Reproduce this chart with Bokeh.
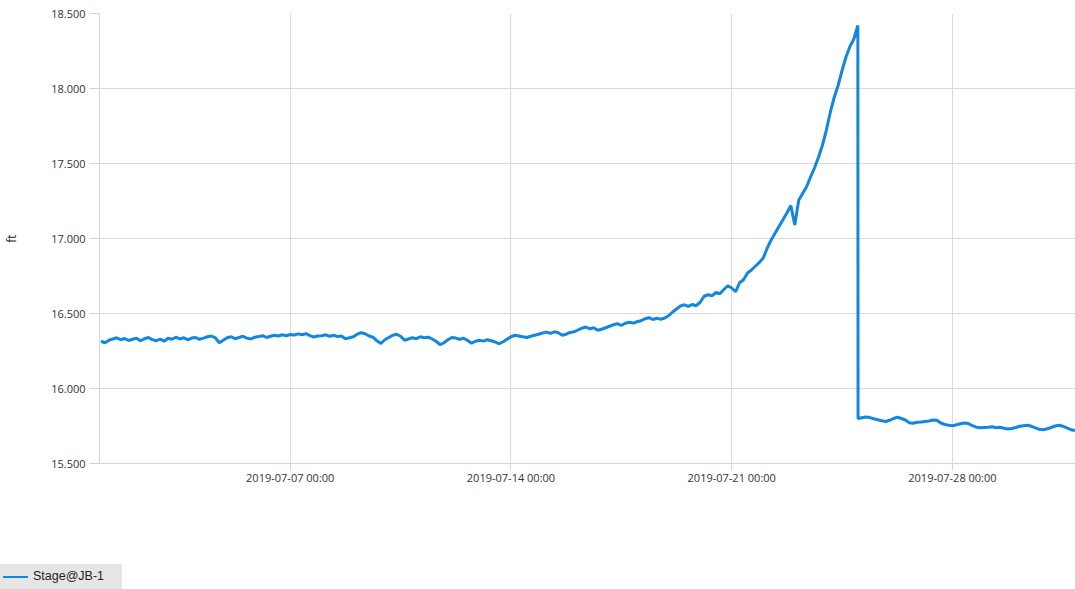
import pandas as pd
from datetime import datetime
from bokeh.plotting import figure
from bokeh.layouts import column
from bokeh.models import (Range1d, FixedTicker, DatetimeTickFormatter, PrintfTickFormatter,
                          ColumnDataSource, Div)
from bokeh.embed import file_html
from bokeh.resources import INLINE

series_name = "Stage@JB-1"
y_label = "ft"
y_ticks = [15.5, 16.0, 16.5, 17.0, 17.5, 18.0, 18.5]
x_tick_dates = ["2019-07-07 00:00", "2019-07-14 00:00", "2019-07-21 00:00", "2019-07-28 00:00"]

# 3-hourly readings from 2019-07-01 00:00 through 2019-07-25 00:00
stage_rise = [
    16.315, 16.305, 16.322, 16.330, 16.338, 16.325, 16.333, 16.320,  # 07-01
    16.328, 16.335, 16.318, 16.332, 16.340, 16.326, 16.318, 16.330,  # 07-02
    16.315, 16.335, 16.328, 16.342, 16.330, 16.338, 16.325, 16.336,  # 07-03
    16.340, 16.328, 16.336, 16.345, 16.350, 16.338, 16.305, 16.322,  # 07-04
    16.338, 16.345, 16.332, 16.340, 16.348, 16.336, 16.330, 16.342,  # 07-05
    16.346, 16.352, 16.340, 16.348, 16.355, 16.350, 16.358, 16.352,  # 07-06
    16.360, 16.356, 16.364, 16.358, 16.366, 16.352, 16.343, 16.350,  # 07-07
    16.352, 16.358, 16.348, 16.355, 16.346, 16.350, 16.332, 16.338,  # 07-08
    16.345, 16.362, 16.372, 16.365, 16.350, 16.342, 16.318, 16.300,  # 07-09
    16.325, 16.340, 16.355, 16.362, 16.348, 16.322, 16.330, 16.338,  # 07-10
    16.332, 16.345, 16.338, 16.342, 16.330, 16.315, 16.292, 16.305,  # 07-11
    16.325, 16.340, 16.336, 16.328, 16.335, 16.320, 16.302, 16.315,  # 07-12
    16.322, 16.316, 16.325, 16.318, 16.310, 16.298, 16.312, 16.328,  # 07-13
    16.345, 16.355, 16.350, 16.345, 16.340, 16.348, 16.355, 16.362,  # 07-14
    16.370, 16.376, 16.368, 16.378, 16.372, 16.355, 16.362, 16.374,  # 07-15
    16.378, 16.390, 16.402, 16.410, 16.398, 16.405, 16.388, 16.395,  # 07-16
    16.405, 16.415, 16.425, 16.432, 16.420, 16.435, 16.442, 16.436,  # 07-17
    16.445, 16.452, 16.465, 16.472, 16.460, 16.468, 16.462, 16.470,  # 07-18
    16.485, 16.510, 16.530, 16.550, 16.558, 16.548, 16.560, 16.552,  # 07-19
    16.575, 16.615, 16.625, 16.618, 16.640, 16.632, 16.660, 16.685,  # 07-20
    16.670, 16.645, 16.705, 16.725, 16.770, 16.790, 16.815, 16.840,  # 07-21
    16.870, 16.935, 16.990, 17.035, 17.080, 17.125, 17.170, 17.220,  # 07-22
    17.090, 17.255, 17.300, 17.345, 17.410, 17.470, 17.540, 17.620,  # 07-23
    17.720, 17.840, 17.940, 18.020, 18.120, 18.210, 18.280, 18.330,  # 07-24
    18.420,                                                          # 07-25 00:00
]

# 3-hourly readings from 2019-07-25 00:10 on, after the drop
stage_after = [
    15.800, 15.805, 15.810, 15.806, 15.798, 15.792, 15.785, 15.780,  # 07-25
    15.788, 15.800, 15.808, 15.800, 15.790, 15.772, 15.768, 15.775,  # 07-26
    15.776, 15.780, 15.783, 15.790, 15.788, 15.770, 15.760, 15.755,  # 07-27
    15.752, 15.758, 15.765, 15.770, 15.766, 15.752, 15.742, 15.738,  # 07-28
    15.740, 15.742, 15.745, 15.738, 15.742, 15.735, 15.730, 15.733,  # 07-29
    15.740, 15.748, 15.752, 15.755, 15.748, 15.738, 15.728, 15.725,  # 07-30
    15.732, 15.740, 15.750, 15.755, 15.748, 15.738, 15.725, 15.720,  # 07-31
]

times = list(pd.date_range("2019-07-01 00:00", periods=len(stage_rise), freq="3h")) + \
        list(pd.date_range("2019-07-25 00:10", periods=len(stage_after), freq="3h"))
values = stage_rise + stage_after
src = ColumnDataSource(dict(t=times, v=values))

LINE_COLOR = "#1387e0"
LINE_WIDTH = 3

p = figure(width=1075, height=564, output_backend="svg", toolbar_location=None,
           x_axis_type="datetime",
           x_range=Range1d(datetime(2019, 6, 30, 22, 50), datetime(2019, 7, 31, 21, 40)),
           y_range=Range1d(15.5, 18.5),
           min_border_left=98, min_border_right=0, min_border_top=13, min_border_bottom=101)
p.outline_line_color = None
p.background_fill_color = "white"
p.border_fill_color = "white"

line = p.line("t", "v", source=src, line_color=LINE_COLOR, line_width=LINE_WIDTH)

tick_ms = [pd.Timestamp(d).value // 10**6 for d in x_tick_dates]
xa = p.xaxis[0]
xa.ticker = FixedTicker(ticks=tick_ms)
fmt = "%Y-%m-%d %H:%M"
xa.formatter = DatetimeTickFormatter(microseconds=fmt, milliseconds=fmt, seconds=fmt, minsec=fmt,
                                     minutes=fmt, hourmin=fmt, hours=fmt, days=fmt, months=fmt, years=fmt)
ya = p.yaxis[0]
ya.ticker = FixedTicker(ticks=y_ticks)
ya.formatter = PrintfTickFormatter(format="%.3f")
ya.axis_label = y_label
ya.axis_label_text_font = "Open Sans"
ya.axis_label_text_font_size = "12px"
ya.axis_label_text_font_style = "normal"
ya.axis_label_text_color = "#222222"
ya.axis_label_standoff = 28

for ax in (xa, ya):
    ax.major_label_text_font = "Open Sans"
    ax.major_label_text_font_size = "11px"
    ax.major_label_text_color = "#333333"
    ax.axis_line_color = "#d4d4d4"
    ax.major_tick_line_color = "#d4d4d4"
    ax.minor_tick_line_color = None
    ax.major_tick_in = 0
xa.major_tick_out = 7
xa.major_label_standoff = -1
ya.major_tick_out = 10
ya.major_label_standoff = 4

p.xgrid.grid_line_color = "#dadada"
p.ygrid.grid_line_color = "#dadada"

# legend strip below the chart, at the left edge of the page
legend_html = (
    '<div style="width:122px;height:25px;background:#e5e5e5;display:flex;align-items:center;'
    'box-sizing:border-box;padding-left:3px;">'
    f'<span style="display:inline-block;width:25px;height:2px;background:{LINE_COLOR};"></span>'
    '<span style="margin-left:5px;font-family:\'Liberation Sans\';font-size:12.5px;color:#222;">'
    f'{series_name}</span></div>'
)
legend_div = Div(text=legend_html, width=122, height=25, margin=0)

layout = column(p, legend_div, spacing=0)
open("out.html", "w").write(file_html(layout, INLINE))
